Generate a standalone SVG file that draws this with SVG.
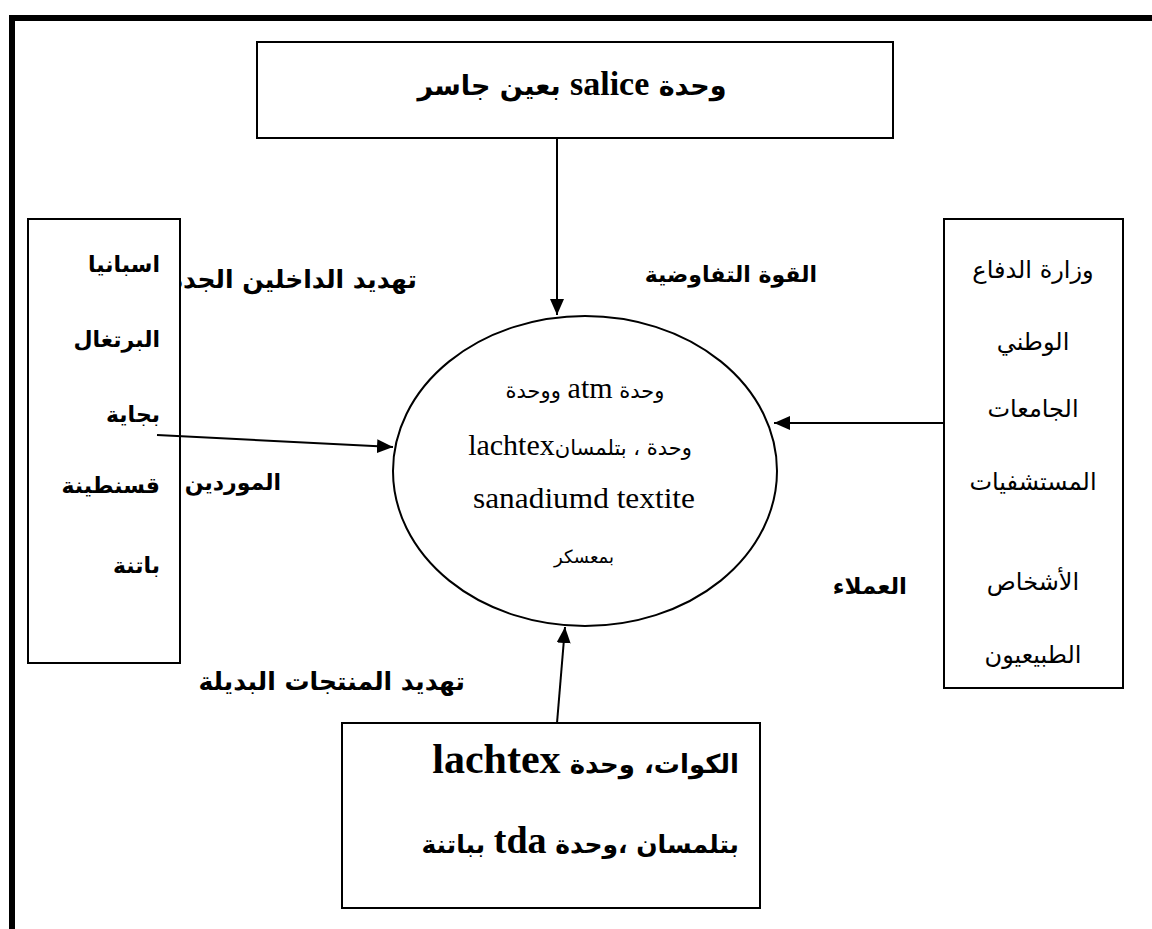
<svg xmlns="http://www.w3.org/2000/svg" width="1152" height="929" viewBox="0 0 1152 929">
<style>
.box{fill:#fff;stroke:#000;stroke-width:2}
.conn{fill:none;stroke:#000;stroke-width:2}
.ar{font-family:"DejaVu Sans","Liberation Serif",serif;fill:#000}
.b{font-weight:bold}
.lat{font-family:"Liberation Serif","DejaVu Serif",serif}
</style>
<defs>
<marker id="ah" viewBox="0 0 16 14" refX="16" refY="7" markerWidth="16" markerHeight="14" markerUnits="userSpaceOnUse" orient="auto">
<path d="M0,0 L16,7 L0,14 Z" fill="#000"/>
</marker>
</defs>
<rect width="1152" height="929" fill="#fff"/>
<g id="frame">
<rect x="9" y="15" width="1143" height="6" fill="#000"/>
<rect x="9" y="15" width="6" height="914" fill="#000"/>
</g>
<g id="labels" class="ar b" direction="rtl">
<text x="417" y="288" text-anchor="start" font-size="25">تهديد الداخلين الجدد</text>
<text x="281" y="490" text-anchor="start" font-size="22">الموردين</text>
<text x="817" y="282" text-anchor="start" font-size="22">القوة التفاوضية</text>
<text x="907" y="594" text-anchor="start" font-size="23">العملاء</text>
<text x="465" y="690" text-anchor="start" font-size="25">تهديد المنتجات البديلة</text>
</g>
<g id="top-box">
<rect class="box" x="257" y="42" width="636" height="96"/>
<text class="ar b" direction="rtl" x="572" y="95" text-anchor="middle" font-size="27">وحدة <tspan class="lat" font-size="34">salice</tspan> بعين جاسر</text>
</g>
<g id="left-box">
<rect class="box" x="28" y="219" width="152" height="444"/>
<g class="ar b" direction="rtl" font-size="22">
<text x="160" y="272" text-anchor="start">اسبانيا</text>
<text x="160" y="347" text-anchor="start">البرتغال</text>
<text x="160" y="422" text-anchor="start">بجاية</text>
<text x="160" y="493" text-anchor="start">قسنطينة</text>
<text x="160" y="573" text-anchor="start">باتنة</text>
</g>
</g>
<g id="right-box">
<rect class="box" x="944" y="219" width="179" height="469"/>
<g class="ar" direction="rtl" font-size="24" text-anchor="middle">
<text x="1033" y="278">وزارة الدفاع</text>
<text x="1033" y="350">الوطني</text>
<text x="1033" y="417">الجامعات</text>
<text x="1033" y="490">المستشفيات</text>
<text x="1033" y="590">الأشخاص</text>
<text x="1033" y="663">الطبيعيون</text>
</g>
</g>
<g id="center">
<ellipse class="box" cx="585" cy="471" rx="192" ry="155"/>
<g class="ar" direction="rtl" text-anchor="middle">
<text x="585" y="398" font-size="21">وحدة <tspan class="lat" font-size="30">atm</tspan> ووحدة</text>
<text x="580" y="455" font-size="21">وحدة ، بتلمسان<tspan class="lat" font-size="30">lachtex</tspan></text>
<text x="584" y="508" class="lat" font-size="30" textLength="222" lengthAdjust="spacingAndGlyphs">sanadiumd textite</text>
<text x="584" y="563" font-size="18">بمعسكر</text>
</g>
</g>
<g id="bottom-box">
<rect class="box" x="342" y="723" width="418" height="185"/>
<g class="ar b" direction="rtl">
<text x="739" y="773" text-anchor="start" font-size="26">الكوات، وحدة <tspan class="lat" font-size="42">lachtex</tspan></text>
<text x="739" y="853" text-anchor="start" font-size="25">بتلمسان ،وحدة <tspan class="lat" font-size="38">tda</tspan> بباتنة</text>
</g>
</g>
<g id="connectors" class="conn">
<line x1="557" y1="138" x2="557" y2="315" marker-end="url(#ah)"/>
<line x1="157" y1="435" x2="393" y2="447" marker-end="url(#ah)"/>
<line x1="944" y1="423" x2="774" y2="423" marker-end="url(#ah)"/>
<line x1="557" y1="723" x2="565" y2="627" marker-end="url(#ah)"/>
</g>
</svg>
